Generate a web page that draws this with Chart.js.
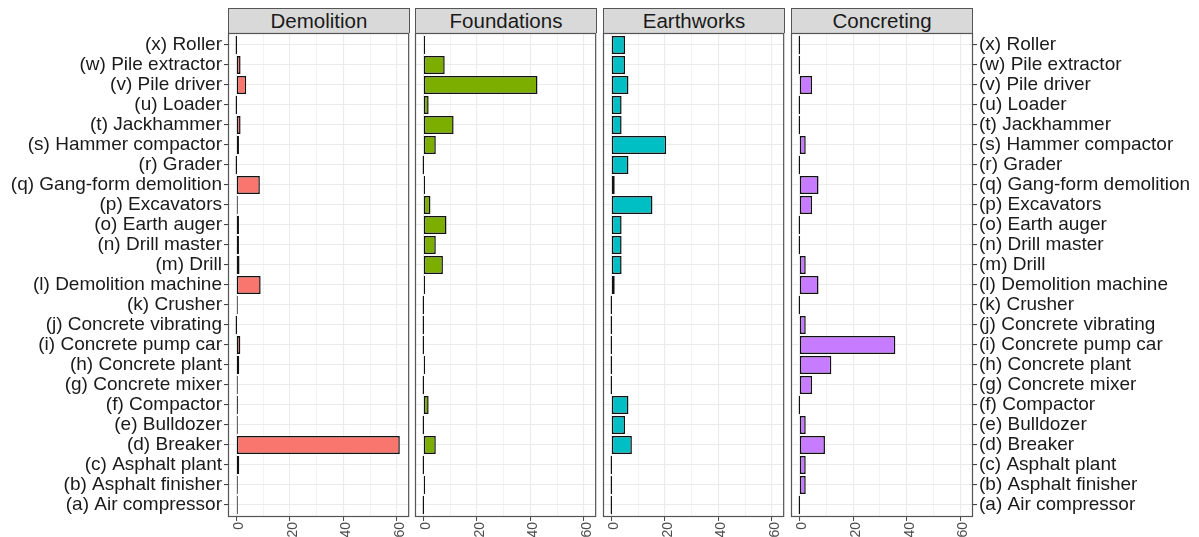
<!DOCTYPE html>
<html>
<head>
<meta charset="utf-8">
<script src="https://cdn.jsdelivr.net/npm/chart.js@4/dist/chart.umd.min.js"></script>
<style>
  html, body { margin: 0; padding: 0; background: #ffffff; }
  body { width: 1199px; height: 537px; position: relative; overflow: hidden;
         font-family: "Liberation Sans", Arial, sans-serif; }
  .box { position: absolute; top: 0; height: 537px; }
  .strip { position: absolute; top: 8px; height: 25px; box-sizing: border-box;
           background: #d9d9d9; border: 1px solid #555555; border-bottom: none;
           color: #1a1a1a; font-size: 20.5px; line-height: 24px; text-align: center; }
</style>
</head>
<body>
<div class="strip" style="left:228px;width:182px">Demolition</div>
<div class="strip" style="left:415px;width:182px">Foundations</div>
<div class="strip" style="left:603px;width:182px">Earthworks</div>
<div class="strip" style="left:791px;width:182px">Concreting</div>

<div class="box" style="left:0;width:415px"><canvas id="c1"></canvas></div>
<div class="box" style="left:410px;width:192px"><canvas id="c2"></canvas></div>
<div class="box" style="left:598px;width:192px"><canvas id="c3"></canvas></div>
<div class="box" style="left:786px;width:413px"><canvas id="c4"></canvas></div>

<script>
// Equipment categories, bottom (a) to top (x)
const equipment = [
  "(a) Air compressor", "(b) Asphalt finisher", "(c) Asphalt plant", "(d) Breaker",
  "(e) Bulldozer", "(f) Compactor", "(g) Concrete mixer", "(h) Concrete plant",
  "(i) Concrete pump car", "(j) Concrete vibrating", "(k) Crusher", "(l) Demolition machine",
  "(m) Drill", "(n) Drill master", "(o) Earth auger", "(p) Excavators",
  "(q) Gang-form demolition", "(r) Grader", "(s) Hammer compactor", "(t) Jackhammer",
  "(u) Loader", "(v) Pile driver", "(w) Pile extractor", "(x) Roller"
];

// Share (%) of each equipment type per construction stage, same order as above
const demolition = [0.4, 0.2, 1.1, 61.1, 0.2, 0.6, 0.2, 1.1, 1.5, 0, 0.5, 9.1,
                    1.2, 1.0, 1.0, 0.5, 8.8, 0, 1.0, 1.6, 0, 3.7, 1.6, 0];
const foundations = [0, 0.67, 0, 4.67, 0, 2.0, 0, 0.67, 0, 0, 0, 0.67,
                     7.33, 4.67, 8.67, 2.67, 0.67, 0, 4.67, 11.33, 2.0, 42.67, 8.0, 0.67];
const earthworks = [0, 0, 0, 7.69, 5.13, 6.41, 0, 0, 0, 0, 0, 1.28,
                    3.85, 3.85, 3.85, 15.38, 1.28, 6.41, 20.51, 3.85, 3.85, 6.41, 5.13, 5.13];
const concreting = [0, 2.38, 2.38, 9.52, 2.38, 0, 4.76, 11.9, 35.71, 2.38, 0, 7.14,
                    2.38, 0, 0, 4.76, 7.14, 0, 2.38, 0, 0, 4.76, 0, 0];

const xTicks = [0, 20, 40, 60];

const panels = [
  { id: "c1", title: "Demolition",  values: demolition,  color: "#F8766D", side: "left"  },
  { id: "c2", title: "Foundations", values: foundations, color: "#7CAE00", side: "none"  },
  { id: "c3", title: "Earthworks",  values: earthworks,  color: "#00BFC4", side: "none"  },
  { id: "c4", title: "Concreting",  values: concreting,  color: "#C77CFF", side: "right" }
];

// Frame around each facet panel
const panelBorder = {
  id: "panelBorder",
  afterDraw(chart) {
    const a = chart.chartArea, ctx = chart.ctx;
    ctx.save();
    ctx.strokeStyle = "#555555";
    ctx.lineWidth = 1.2;
    ctx.strokeRect(a.left + 0.5, a.top + 0.5, a.right - a.left - 1, a.bottom - a.top - 1);
    ctx.restore();
  }
};

const PLOT_TOP = 33, PLOT_BOTTOM = 517, H = 537;

panels.forEach(p => {
  const yLabels = p.side !== "none";
  const pad = p.side === "left" ? { top: PLOT_TOP, left: 0, right: 5, bottom: 0 }
            : p.side === "right" ? { top: PLOT_TOP, left: 5, right: 0, bottom: 0 }
            : { top: PLOT_TOP, left: 5, right: 5, bottom: 0 };
  new Chart(document.getElementById(p.id), {
    type: "bar",
    data: {
      datasets: [{
        label: p.title,
        data: p.values.map((v, i) => ({ x: v, y: i })),
        backgroundColor: p.color,
        borderColor: "#111111",
        borderWidth: 1.5,
        borderSkipped: false,
        barPercentage: 0.9,
        categoryPercentage: 1.0,
        minBarLength: 1.5
      }]
    },
    options: {
      indexAxis: "y",
      responsive: true,
      maintainAspectRatio: false,
      animation: false,
      layout: { padding: pad },
      plugins: { legend: { display: false }, tooltip: { enabled: false }, title: { display: false } },
      scales: {
        x: {
          type: "linear",
          position: "bottom",
          min: -3.1,
          max: 64.6,
          border: { display: false },
          grid: {
            color: "#ebebeb",
            lineWidth: c => (c.tick && xTicks.includes(c.tick.value)) ? 1.1 : 0.6,
            drawTicks: true,
            tickLength: 4,
            tickColor: c => (c.tick && xTicks.includes(c.tick.value)) ? "#444444" : "rgba(0,0,0,0)",
            tickWidth: 1
          },
          ticks: {
            stepSize: 10,
            includeBounds: false,
            autoSkip: false,
            minRotation: 90,
            maxRotation: 90,
            padding: 1,
            labelOffset: 3,
            color: "#4d4d4d",
            font: { family: "Liberation Sans", size: 14 },
            callback: v => xTicks.includes(v) ? String(v) : ""
          },
          afterFit: s => { s.height = H - PLOT_BOTTOM; }
        },
        y: {
          type: "linear",
          position: p.side === "right" ? "right" : "left",
          min: -0.6,
          max: equipment.length - 1 + 0.6,
          offset: false,
          border: { display: false },
          grid: {
            offset: false,
            color: "#ebebeb",
            lineWidth: 1.1,
            drawTicks: yLabels,
            tickLength: 4,
            tickColor: "#444444"
          },
          ticks: {
            display: yLabels,
            stepSize: 1,
            includeBounds: false,
            autoSkip: false,
            padding: 2,
            color: "#1a1a1a",
            font: { family: "Liberation Sans", size: 19 },
            callback: v => equipment[v] ?? ""
          },
          afterFit: s => {
            if (p.side === "left") s.width = 228;
            else if (p.side === "right") s.width = 226;
            else s.width = 0;
          }
        }
      }
    },
    plugins: [panelBorder]
  });
});
</script>
</body>
</html>
